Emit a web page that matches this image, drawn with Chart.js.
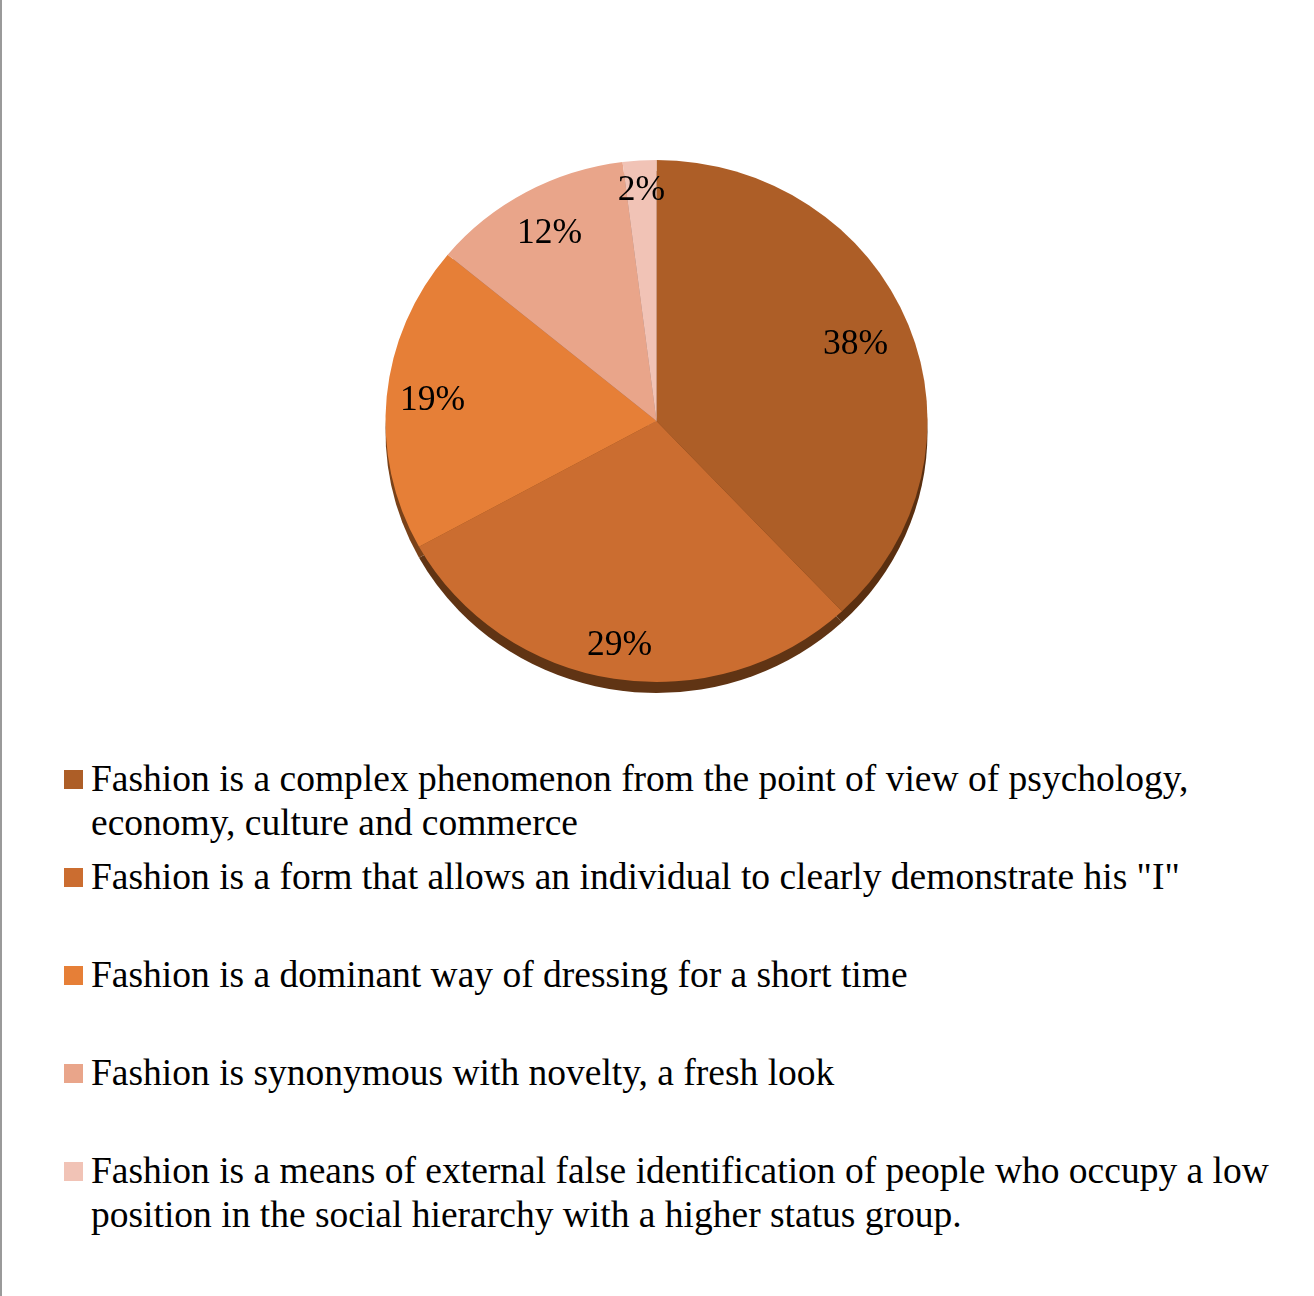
<!DOCTYPE html>
<html>
<head>
<meta charset="utf-8">
<script src="https://cdn.jsdelivr.net/npm/chart.js@4.4.1/dist/chart.umd.min.js"></script>
<style>
  html, body { margin: 0; padding: 0; background: #fff; }
  body { width: 1314px; height: 1296px; position: relative; overflow: hidden;
         font-family: "Liberation Serif", "Times New Roman", serif; }
  #frame { position: absolute; left: 0; top: 0; width: 2px; height: 1296px; background: #9a9a9a; }
  #pieChart { position: absolute; left: 0; top: 0; }
  #legend { position: absolute; left: 64px; top: 757px; width: 1230px; margin: 0; padding: 0; list-style: none; }
  #legend li { position: relative; height: 98px; padding-left: 27px; font-size: 37.5px; line-height: 44px; color: #000; }
  #legend .box { position: absolute; left: 0; top: 13px; width: 19px; height: 19px; }
</style>
</head>
<body>
<div id="frame"></div>
<canvas id="pieChart" width="1314" height="740"></canvas>
<ul id="legend"></ul>
<script>
const categories = [
  'Fashion is a complex phenomenon from the point of view of psychology, economy, culture and commerce',
  'Fashion is a form that allows an individual to clearly demonstrate his "I"',
  'Fashion is a dominant way of dressing for a short time',
  'Fashion is synonymous with novelty, a fresh look',
  'Fashion is a means of external false identification of people who occupy a low position in the social hierarchy with a higher status group.'
];
const shares = [38, 29, 19, 12, 2];
const sliceColors = ['#ad5e27', '#cb6d30', '#e67f37', '#e9a58a', '#f1c3b6'];
const rimColors = ['#5a2f10', '#603414', '#7a4219', '#8a5a48', '#9a7266'];
// how far out (fraction of radius) each percentage label sits
const labelRadius = [0.79, 0.87, 0.83, 0.82, 0.885];

const squash = 0.963;   // pie is drawn slightly flattened, like the 3D original
const rimDepth = 11;

// flatten the pie and paint a dark rim under it
const tiltPlugin = {
  id: 'tilt',
  beforeDatasetsDraw(chart) {
    const ctx = chart.ctx;
    const arcs = chart.getDatasetMeta(0).data;
    const cx = arcs[0].x, cy = arcs[0].y;
    ctx.save();
    ctx.translate(cx, cy);
    ctx.scale(1, squash);
    ctx.translate(-cx, -cy);
    arcs.forEach((arc, i) => {
      const p = arc.getProps(['x', 'y', 'startAngle', 'endAngle', 'outerRadius']);
      ctx.beginPath();
      ctx.moveTo(p.x, p.y + rimDepth / squash);
      ctx.arc(p.x, p.y + rimDepth / squash, p.outerRadius, p.startAngle, p.endAngle);
      ctx.closePath();
      ctx.fillStyle = rimColors[i];
      ctx.fill();
    });
  },
  afterDatasetsDraw(chart) {
    const ctx = chart.ctx;
    ctx.restore();
    const arcs = chart.getDatasetMeta(0).data;
    ctx.save();
    ctx.font = '35.5px "Liberation Serif", "Times New Roman", serif';
    ctx.fillStyle = '#000';
    ctx.textAlign = 'center';
    ctx.textBaseline = 'middle';
    arcs.forEach((arc, i) => {
      const p = arc.getProps(['x', 'y', 'startAngle', 'endAngle', 'outerRadius']);
      const mid = (p.startAngle + p.endAngle) / 2;
      const r = p.outerRadius * labelRadius[i];
      const x = p.x + Math.cos(mid) * r;
      const y = p.y + Math.sin(mid) * r * squash;
      ctx.fillText(shares[i] + '%', x, y);
    });
    ctx.restore();
  }
};

new Chart(document.getElementById('pieChart').getContext('2d'), {
  type: 'pie',
  data: {
    labels: categories,
    datasets: [{
      data: shares,
      backgroundColor: sliceColors,
      borderWidth: 0,
      hoverOffset: 0
    }]
  },
  options: {
    responsive: false,
    animation: false,
    layout: { padding: { left: 385, right: 386, top: 150, bottom: 48 } },
    plugins: {
      legend: { display: false },
      tooltip: { enabled: false }
    }
  },
  plugins: [tiltPlugin]
});

const legend = document.getElementById('legend');
categories.forEach((label, i) => {
  const li = document.createElement('li');
  const box = document.createElement('span');
  box.className = 'box';
  box.style.background = sliceColors[i];
  li.appendChild(box);
  li.appendChild(document.createTextNode(label));
  legend.appendChild(li);
});
</script>
</body>
</html>
